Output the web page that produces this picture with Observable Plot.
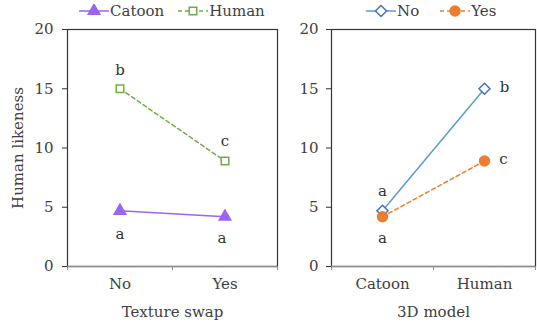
<!DOCTYPE html>
<html><head><meta charset="utf-8">
<script src="https://cdn.jsdelivr.net/npm/d3@7"></script>
<script src="https://cdn.jsdelivr.net/npm/@observablehq/plot@0.6"></script>
<style>
body{margin:0;background:#fff;font-family:"DejaVu Serif",serif;}
#wrap{display:flex;width:537px;height:325px;overflow:hidden;}
.panel{display:flex;flex-direction:column;}
.legend{height:22px;display:flex;align-items:center;font-size:15px;color:#404040;white-space:nowrap;}
.legend .item{display:flex;align-items:center;}
.legend svg{display:block;}
</style></head><body><div id="wrap"></div>
<script>
// ---- data ----
const texCats = ["No", "Yes"];
const texSeries = ["Catoon", "Human"];
const texCatoon = [4.7, 4.2];
const texHuman = [15.0, 8.9];
const texCatoonLetters = ["a", "a"];
const texHumanLetters = ["b", "c"];

const modelCats = ["Catoon", "Human"];
const modelSeries = ["No", "Yes"];
const modelNo = [4.7, 15.0];
const modelYes = [4.2, 8.9];
const modelNoLetters = ["a", "b"];
const modelYesLetters = ["a", "c"];

const yTicks = [0, 5, 10, 15, 20];
const yLabel = "Human likeness";
const texXLabel = "Texture swap";
const modelXLabel = "3D model";

// ---- styles ----
const styles = {
  Catoon: {line: "#9966f2", stroke: "#9966f2", fill: "#9966f2", symbol: "triangle", r: 4.3, dash: null,
           offsets: [[0, 23], [-3, 21]]},
  Human:  {line: "#70ad47", stroke: "#70ad47", fill: "white", symbol: "square", r: 4.3, dash: "4,3",
           offsets: [[0, -19], [0, -20]]},
  No:     {line: "#5b9bd5", stroke: "#4472c4", fill: "white", symbol: "diamond2", r: 5, dash: null,
           offsets: [[0, -20], [20, -2]]},
  Yes:    {line: "#ed7d31", stroke: "#ed7d31", fill: "#ed7d31", symbol: "circle", r: 5, dash: "4,3",
           offsets: [[0, 21], [19, -2]]}
};

function makeRows(cats, name, values, letters) {
  return cats.map((c, i) => ({cat: c, pos: i + 0.5, series: name, value: values[i], letter: letters[i], i}));
}

function legend(series, padLeft, gap) {
  const div = document.createElement("div");
  div.className = "legend";
  div.style.paddingLeft = padLeft + "px";
  series.forEach((s, k) => {
    const st = styles[s];
    const item = document.createElement("div");
    item.className = "item";
    if (k > 0) item.style.marginLeft = gap + "px";
    const svg = d3.create("svg").attr("width", 32).attr("height", 14);
    svg.append("line").attr("x1", 1).attr("x2", 31).attr("y1", 7).attr("y2", 7)
      .attr("stroke", st.line).attr("stroke-width", 1.5).attr("stroke-dasharray", st.dash);
    const sym = {triangle: d3.symbolTriangle, square: d3.symbolSquare, diamond2: d3.symbolDiamond2, circle: d3.symbolCircle}[st.symbol];
    svg.append("path").attr("transform", "translate(16,7)")
      .attr("d", d3.symbol(sym, st.r * st.r * Math.PI)())
      .attr("fill", st.fill).attr("stroke", st.stroke).attr("stroke-width", 1.5);
    item.appendChild(svg.node());
    const t = document.createElement("span");
    t.textContent = s;
    item.appendChild(t);
    div.appendChild(item);
  });
  return div;
}

function panel({cats, rowsBySeries, width, marginLeft, marginRight, xLabel, showYLabel, tickPadding}) {
  const marks = [
    Plot.frame({stroke: "#333", strokeWidth: 1.2}),
    Plot.ruleY([0], {stroke: "#8c8c8c", strokeWidth: 1.5}),
    Plot.axisY({ticks: yTicks, tickSize: 5, tickPadding, stroke: "#333", fill: "#404040", label: null}),
    Plot.axisX({ticks: d3.range(cats.length + 1), tickSize: 4, tickFormat: () => "", stroke: "#8c8c8c", label: null}),
    Plot.axisX({ticks: cats.map((c, i) => i + 0.5), tickSize: 0, tickPadding: 12, fill: "#404040",
                tickFormat: v => cats[Math.floor(v)], label: null}),
    Plot.text([xLabel], {frameAnchor: "bottom", dy: 50, fill: "#404040", fontSize: 15})
  ];
  if (showYLabel) marks.push(Plot.text([yLabel], {frameAnchor: "left", textAnchor: "middle", rotate: -90, dx: -49, fill: "#404040", fontSize: 15}));
  for (const rows of rowsBySeries) {
    const st = styles[rows[0].series];
    marks.push(Plot.line(rows, {x: "pos", y: "value", stroke: st.line, strokeWidth: 1.5, strokeDasharray: st.dash}));
  }
  for (const rows of rowsBySeries) {
    const st = styles[rows[0].series];
    marks.push(Plot.dot(rows, {x: "pos", y: "value", symbol: () => st.symbol, r: st.r, fill: st.fill, stroke: st.stroke, strokeWidth: 1.5}));
    for (const row of rows) {
      const [dx, dy] = st.offsets[row.i];
      marks.push(Plot.text([row], {x: "pos", y: "value", text: "letter", dx, dy, fill: "#333", fontSize: 15}));
    }
  }
  return Plot.plot({
    width, height: 303,
    marginLeft, marginRight, marginTop: 7, marginBottom: 59,
    x: {type: "linear", domain: [0, cats.length], axis: null},
    y: {domain: [0, 20], axis: null},
    symbol: {type: "identity"},
    style: {fontFamily: "DejaVu Serif", fontSize: "15px", color: "#404040", background: "white", overflow: "visible"},
    marks
  });
}

const wrap = document.getElementById("wrap");

const left = document.createElement("div");
left.className = "panel";
left.style.width = "290px";
left.appendChild(legend(texSeries, 78, 13));
left.appendChild(panel({
  cats: texCats,
  rowsBySeries: [makeRows(texCats, "Catoon", texCatoon, texCatoonLetters), makeRows(texCats, "Human", texHuman, texHumanLetters)],
  width: 290, marginLeft: 67, marginRight: 13, xLabel: texXLabel, showYLabel: true, tickPadding: 9
}));
wrap.appendChild(left);

const right = document.createElement("div");
right.className = "panel";
right.style.width = "247px";
right.appendChild(legend(modelSeries, 75, 20));
right.appendChild(panel({
  cats: modelCats,
  rowsBySeries: [makeRows(modelCats, "No", modelNo, modelNoLetters), makeRows(modelCats, "Yes", modelYes, modelYesLetters)],
  width: 247, marginLeft: 41, marginRight: 2, xLabel: modelXLabel, showYLabel: false, tickPadding: 8
}));
wrap.appendChild(right);
</script></body></html>
